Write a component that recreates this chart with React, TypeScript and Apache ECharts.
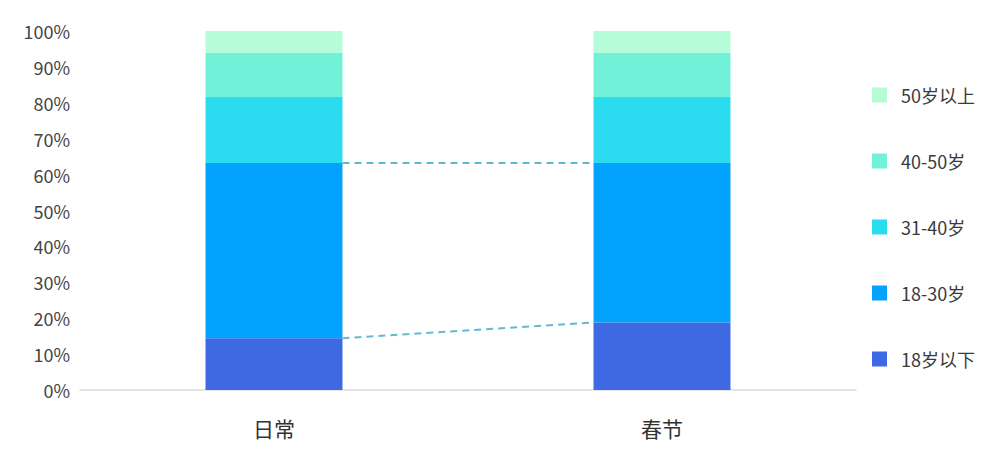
import React, { useEffect, useRef } from "react";
import * as echarts from "echarts";

const categories = ["日常", "春节"];
const groups = ["18岁以下", "18-30岁", "31-40岁", "40-50岁", "50岁以上"];
const colors = ["#3f69e3", "#02a2fe", "#2bdcf0", "#71f2d8", "#b5fdd9"];
// percentage share per age group, [日常, 春节]
const under18 = [14.4, 18.8];
const age18to30 = [48.8, 44.4];
const age31to40 = [18.4, 18.4];
const age40to50 = [12.4, 12.4];
const over50 = [6.0, 6.0];
const yTicks = [0, 10, 20, 30, 40, 50, 60, 70, 80, 90, 100];

const seriesValues = [under18, age18to30, age31to40, age40to50, over50];
const BAR_RATIO = 0.353;
const FONT = "'Noto Sans CJK SC', 'Noto Sans', sans-serif";

const App = () => {
  const chartRef = useRef<HTMLDivElement | null>(null);

  useEffect(() => {
    if (!chartRef.current) return;
    const myChart = echarts.init(chartRef.current, undefined, { renderer: "svg" });

    // connector lines join the tops of the first two segments
    const connectors = [0, 1].map((k) => {
      const c0 = seriesValues.slice(0, k + 1).reduce((s, a) => s + a[0], 0);
      const c1 = seriesValues.slice(0, k + 1).reduce((s, a) => s + a[1], 0);
      return [0, c0, c1];
    });

    const option = {
      animation: false,
      textStyle: { fontFamily: FONT },
      grid: { left: 80, right: 141, top: 31, bottom: 67 },
      legend: {
        orient: "vertical",
        left: 867,
        top: 81,
        itemWidth: 15,
        itemHeight: 15,
        itemGap: 48,
        icon: "rect",
        data: [...groups].reverse(),
        textStyle: { fontSize: 18, color: "#3a3a3a", fontFamily: FONT, padding: [0, 0, 0, 9] },
      },
      xAxis: {
        type: "category",
        data: categories,
        axisLine: { lineStyle: { color: "#dcdcdc", width: 1.5 } },
        axisTick: { show: false },
        axisLabel: { fontSize: 21, color: "#333", margin: 27, fontFamily: FONT },
      },
      yAxis: {
        type: "value",
        min: yTicks[0],
        max: yTicks[yTicks.length - 1],
        interval: 10,
        axisLine: { show: false },
        axisTick: { show: false },
        splitLine: { show: false },
        axisLabel: { formatter: "{value}%", fontSize: 18, color: "#444", margin: 10, fontFamily: FONT },
      },
      series: [
        ...groups.map((name, i) => ({
          name,
          type: "bar",
          stack: "total",
          barWidth: `${BAR_RATIO * 100}%`,
          itemStyle: { color: colors[i] },
          data: seriesValues[i],
        })),
        {
          type: "custom",
          silent: true,
          encode: { x: 0, y: [1, 2] },
          data: connectors,
          z: 5,
          renderItem: (_params: any, api: any) => {
            const half = (api.size([1, 0])[0] * BAR_RATIO) / 2;
            const p0 = api.coord([0, api.value(1)]);
            const p1 = api.coord([1, api.value(2)]);
            return {
              type: "line",
              shape: { x1: p0[0] + half, y1: p0[1], x2: p1[0] - half, y2: p1[1] },
              style: { stroke: "#62bad2", lineWidth: 2, lineDash: [7, 5] },
            };
          },
        },
      ],
    };

    myChart.setOption(option);
    return () => {
      myChart.dispose();
    };
  }, []);

  return (
    <div
      ref={chartRef}
      style={{ position: "fixed", left: 0, top: 0, width: "997px", height: "457px", background: "#fff" }}
    ></div>
  );
};

export default App;
